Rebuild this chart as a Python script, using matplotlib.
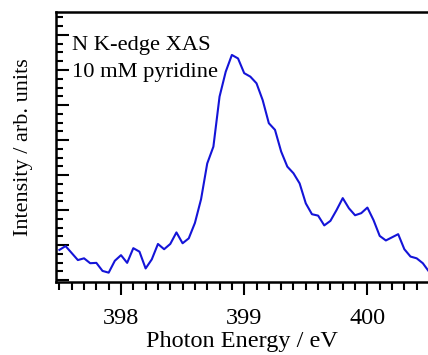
import matplotlib
matplotlib.use("Agg")
import matplotlib.pyplot as plt
from matplotlib.ticker import MultipleLocator
import numpy as np

energy = [397.50, 397.55, 397.60, 397.65, 397.70, 397.75, 397.80, 397.85, 397.90, 397.95,
          398.00, 398.05, 398.10, 398.15, 398.20, 398.25, 398.30, 398.35, 398.40, 398.45,
          398.50, 398.55, 398.60, 398.65, 398.70, 398.75, 398.80, 398.85, 398.90, 398.95,
          399.00, 399.05, 399.10, 399.15, 399.20, 399.25, 399.30, 399.35, 399.40, 399.45,
          399.50, 399.55, 399.60, 399.65, 399.70, 399.75, 399.80, 399.85, 399.90, 399.95,
          400.00, 400.05, 400.10, 400.15, 400.20, 400.25, 400.30, 400.35, 400.40, 400.45,
          400.50]
intensity = [0.86, 0.97, 0.77, 0.57, 0.62, 0.48, 0.49, 0.26, 0.21, 0.55,
             0.71, 0.49, 0.91, 0.81, 0.33, 0.59, 1.03, 0.88, 1.03, 1.36,
             1.05, 1.19, 1.63, 2.31, 3.33, 3.81, 5.24, 5.95, 6.43, 6.33,
             5.91, 5.81, 5.62, 5.14, 4.48, 4.29, 3.67, 3.24, 3.05, 2.76,
             2.19, 1.88, 1.84, 1.56, 1.69, 2.00, 2.34, 2.05, 1.85, 1.91,
             2.07, 1.71, 1.26, 1.13, 1.22, 1.31, 0.88, 0.67, 0.62, 0.48,
             0.24]

plt.rcParams['font.family'] = ['Liberation Serif', 'DejaVu Serif']

fig = plt.figure(figsize=(4.28, 3.55), dpi=100)
ax = fig.add_axes([0.131, 0.2056, 0.869, 0.7606])

ax.plot(energy, intensity, color='#1414d8', lw=1.5, clip_on=True)

ax.set_xlim(397.473, 400.492)
ax.set_ylim(-0.057, 7.657)

ax.xaxis.set_major_locator(MultipleLocator(1))
ax.xaxis.set_minor_locator(MultipleLocator(0.1))
ax.yaxis.set_major_locator(MultipleLocator(1))
ax.yaxis.set_minor_locator(MultipleLocator(0.25))

ax.tick_params(axis='x', which='major', direction='out', length=9, width=1.5, labelsize=17.5, pad=10)
ax.tick_params(axis='x', which='minor', direction='out', length=6, width=1.5)
ax.tick_params(axis='y', which='major', direction='in', length=9, width=1.5, labelleft=False)
ax.tick_params(axis='y', which='minor', direction='in', length=5, width=1.5)

for s in ['left', 'bottom', 'top']:
    ax.spines[s].set_linewidth(1.8)
ax.spines['right'].set_visible(False)

ax.set_xlabel('Photon Energy / eV', fontsize=17.5, labelpad=1)
ax.set_ylabel('Intensity / arb. units', fontsize=16, labelpad=13)

ax.text(0.043, 0.859, 'N K-edge XAS', transform=ax.transAxes,
        fontsize=16.2, va='baseline', ha='left')
ax.text(0.043, 0.759, '10 mM pyridine', transform=ax.transAxes,
        fontsize=16.2, va='baseline', ha='left')

fig.savefig('out.png', dpi=100)
